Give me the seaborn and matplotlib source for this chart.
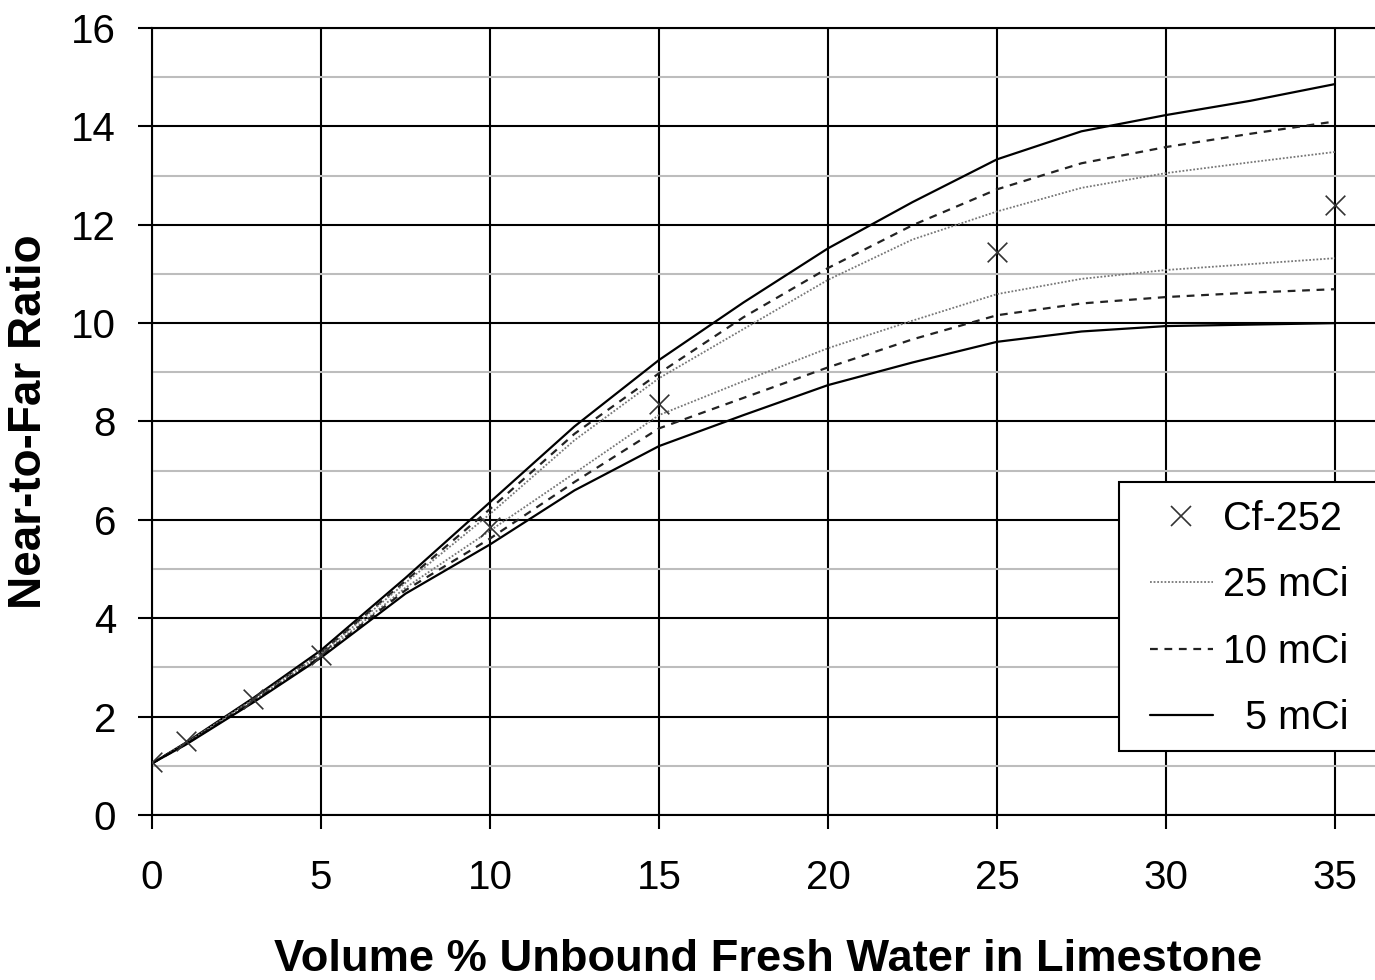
import matplotlib
matplotlib.use("Agg")
import matplotlib.pyplot as plt
import seaborn as sns
import pandas as pd
from matplotlib.lines import Line2D
from matplotlib.patches import Rectangle

# ---- data ----
cf_x = [0, 1, 3, 5, 10, 15, 25, 35]
cf_y = [1.07, 1.5, 2.35, 3.25, 5.85, 8.35, 11.45, 12.4]

curve_x = [0, 1, 3, 5, 7.5, 10, 12.5, 15, 17.5, 20, 22.5, 25, 27.5, 30, 32.5, 35]
up_5 = [1.05, 1.47, 2.38, 3.35, 4.82, 6.36, 7.9, 9.25, 10.42, 11.52, 12.46, 13.33, 13.9, 14.23, 14.52, 14.86]
up_10 = [1.05, 1.46, 2.36, 3.3, 4.76, 6.22, 7.75, 8.98, 10.12, 11.12, 11.99, 12.72, 13.25, 13.58, 13.85, 14.1]
up_25 = [1.05, 1.46, 2.35, 3.28, 4.72, 6.12, 7.62, 8.88, 9.88, 10.88, 11.7, 12.27, 12.75, 13.05, 13.27, 13.48]
lo_25 = [1.05, 1.45, 2.33, 3.24, 4.62, 5.78, 6.95, 8.13, 8.82, 9.49, 10.05, 10.59, 10.9, 11.08, 11.2, 11.32]
lo_10 = [1.05, 1.44, 2.31, 3.22, 4.57, 5.62, 6.77, 7.86, 8.48, 9.1, 9.67, 10.16, 10.4, 10.53, 10.62, 10.69]
lo_5 = [1.05, 1.43, 2.29, 3.2, 4.5, 5.5, 6.6, 7.5, 8.13, 8.74, 9.2, 9.62, 9.83, 9.94, 9.97, 10.0]

labels = ["Cf-252", "25 mCi", "10 mCi", "5 mCi"]
x_ticks = [0, 5, 10, 15, 20, 25, 30, 35]
y_ticks = [0, 2, 4, 6, 8, 10, 12, 14, 16]

sns.set_theme(style="white")
plt.rcParams['font.family'] = ['Liberation Sans', 'DejaVu Sans']
plt.rcParams['text.color'] = 'black'
plt.rcParams['axes.labelcolor'] = 'black'
plt.rcParams['xtick.color'] = 'black'
plt.rcParams['ytick.color'] = 'black'

fig = plt.figure(figsize=(13.75, 9.8), dpi=100)
ax = fig.add_axes([152/1375, 1 - 815/980, 1 - 152/1375, (815 - 28)/980])

styles = {
    "5 mCi": dict(color="black", linestyle="-", linewidth=1.6),
    "10 mCi": dict(color="#222222", linestyle=(0, (3.5, 3)), linewidth=1.6),
    "25 mCi": dict(color="#777777", linestyle=(0, (1, 1)), linewidth=1.3),
}
curves = [("5 mCi", up_5), ("10 mCi", up_10), ("25 mCi", up_25),
          ("25 mCi", lo_25), ("10 mCi", lo_10), ("5 mCi", lo_5)]
for name, ys in curves:
    df = pd.DataFrame({"x": curve_x, "y": ys})
    sns.lineplot(data=df, x="x", y="y", ax=ax, zorder=3, **styles[name])

cf = pd.DataFrame({"x": cf_x, "y": cf_y})
sns.scatterplot(data=cf, x="x", y="y", ax=ax, marker="x", s=200, color="#333333",
                linewidth=1.2, zorder=4)

ax.set_xlim(0, (1375 - 152) / 33.8)
ax.set_ylim(0, 16)
ax.set_xticks(x_ticks)
ax.set_yticks(y_ticks)
ax.set_yticks([v for v in range(1, 16, 2)], minor=True)
ax.grid(which="major", color="black", linewidth=1.5, zorder=1)
ax.grid(which="minor", axis="y", color="#bdbdbd", linewidth=1.5, zorder=0)
ax.set_axisbelow(True)
ax.tick_params(axis="both", which="major", direction="out", length=10, width=1.5,
               color="black", labelcolor="black", labelsize=29, bottom=True, left=True)
ax.tick_params(axis="x", pad=22)
ax.tick_params(axis="y", pad=16)
ax.tick_params(which="minor", length=0)
ax.spines["right"].set_visible(False)
for side in ["left", "bottom", "top"]:
    ax.spines[side].set_color("black")
    ax.spines[side].set_linewidth(1.5)

ax.set_xlabel("Volume % Unbound Fresh Water in Limestone", fontsize=32.6,
              fontweight="bold", labelpad=30, color="black")
ax.xaxis.label.set_x(0.504)
ax.set_ylabel("Near-to-Far Ratio", fontsize=33, fontweight="bold", labelpad=14,
              color="black")

# legend box (extends past the right edge of the figure, as in the original)
W = 1375 - 152
H = 787
box = Rectangle(((1119 - 152) / W, (815 - 751) / H), 0.6, (751 - 482) / H,
                transform=ax.transAxes, facecolor="white", edgecolor="black",
                linewidth=1.5, zorder=9)
ax.add_patch(box)

handles = [
    Line2D([], [], marker="x", linestyle="none", color="#333333", markersize=14, markeredgewidth=1.2),
    Line2D([], [], **styles["25 mCi"]),
    Line2D([], [], **styles["10 mCi"]),
    Line2D([], [], **styles["5 mCi"]),
]
leg_labels = [labels[0], labels[1], labels[2], "  " + labels[3]]
leg = ax.legend(handles, leg_labels, loc="upper left",
                bbox_to_anchor=((1132 - 152) / W, (815 - 482) / H),
                borderaxespad=0, fontsize=28.5, frameon=False,
                handlelength=1.6, handletextpad=0.25,
                labelspacing=0.72, borderpad=0.45)
leg.set_zorder(10)
for t in leg.get_texts():
    t.set_color("black")

fig.savefig("out.png", dpi=100)
